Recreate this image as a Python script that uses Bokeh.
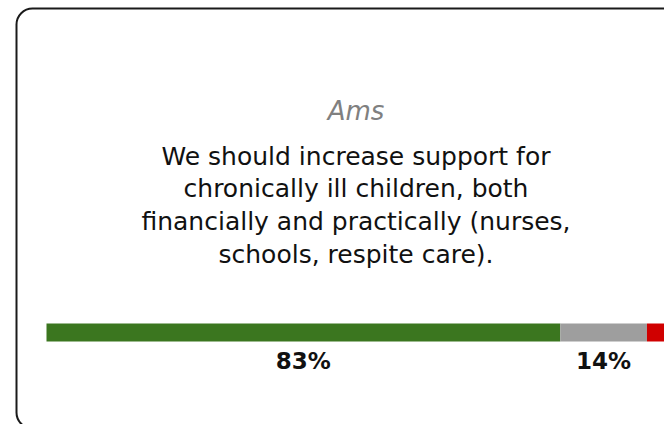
from bokeh.plotting import figure
from bokeh.models import ColumnDataSource, Range1d, Label
from bokeh.core.properties import value
from bokeh.embed import file_html
from bokeh.resources import INLINE

# ---- data ----
city = "Ams"
statement_lines = [
    "We should increase support for",
    "chronically ill children, both",
    "financially and practically (nurses,",
    "schools, respite care).",
]
categories = ["Agree", "Neutral", "Disagree"]
shares = [83, 14, 3]
colors = ["#3b761f", "#9e9e9e", "#d00000"]
show_label = [True, True, False]

W, H = 664, 424
PX_PER_PCT = 6.19
LEFT_PAD = 46  # px from figure left to 0%

x0 = -LEFT_PAD / PX_PER_PCT
x1 = (W - LEFT_PAD) / PX_PER_PCT

p = figure(width=W, height=H, output_backend="svg", toolbar_location=None,
           x_range=Range1d(x0, x1), y_range=Range1d(H, 0),
           min_border=0, outline_line_color=None)
p.axis.visible = False
p.grid.visible = False
p.background_fill_color = "white"
p.border_fill_color = "white"

# card border
card_left = x0 + 16 / PX_PER_PCT
p.quad(left=[card_left], right=[x1 + 10], top=[8], bottom=[428],
       fill_color=None, line_color="#1a1a1a", line_width=2, border_radius=16)

# stacked bar
lefts, rights, centers = [], [], []
acc = 0
for s in shares:
    lefts.append(acc)
    rights.append(acc + s)
    centers.append(acc + s / 2)
    acc += s
src = ColumnDataSource(dict(cat=categories, left=lefts, right=rights, color=colors))
p.hbar(y=332, left="left", right="right", height=18, fill_color="color",
       line_color=None, source=src)

lab = ColumnDataSource(dict(
    x=[c for c, sh in zip(centers, show_label) if sh],
    text=[f"{v}%" for v, sh in zip(shares, show_label) if sh]))
p.text(x="x", y=360, text="text", source=lab, text_align="center",
       text_baseline="alphabetic", text_font=value("DejaVu Sans"),
       text_font_style="bold", text_font_size="23px", text_color="#111111")

# title and statement
p.add_layout(Label(x=50, y=110, text=city, text_align="center",
                   text_baseline="alphabetic", text_font="DejaVu Sans",
                   text_font_style="italic", text_font_size="26px",
                   text_color="#808080"))
for i, line in enumerate(statement_lines):
    p.add_layout(Label(x=50, y=155.5 + i * 32.7, text=line, text_align="center",
                       text_baseline="alphabetic", text_font="DejaVu Sans",
                       text_font_size="25px", text_color="#111111"))

open("out.html", "w").write(file_html(p, INLINE))
